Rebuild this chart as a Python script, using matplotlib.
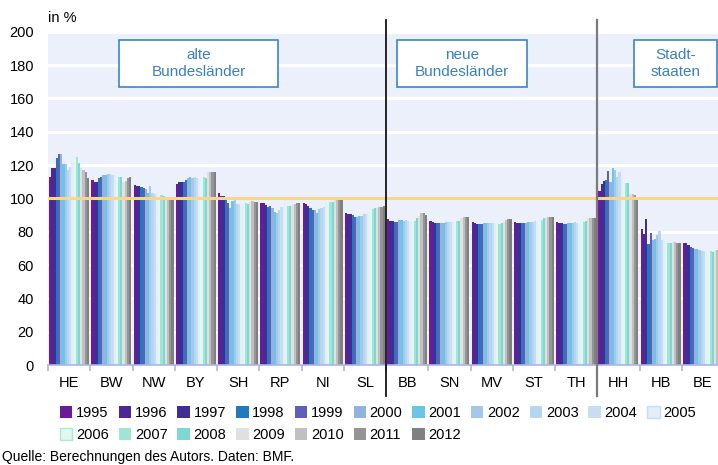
import numpy as np
import matplotlib.pyplot as plt
from matplotlib.patches import Rectangle, Patch

plt.rcParams['font.family'] = ['Liberation Sans', 'DejaVu Sans']

# Länder und Jahre
laender = ['HE', 'BW', 'NW', 'BY', 'SH', 'RP', 'NI', 'SL',
           'BB', 'SN', 'MV', 'ST', 'TH', 'HH', 'HB', 'BE']
jahre = list(range(1995, 2013))

# Werte in %, je Land 1995..2012
HE = [113, 118, 118, 124, 126.5, 126.5, 120.5, 120.5, 117, 119, 122.5, 123.5, 125, 121, 118, 117, 116, 112]
BW = [111, 110, 110, 112, 113, 114, 114, 114.5, 114.5, 114, 114, 113, 113, 113, 110, 110.5, 112, 113]
NW = [108, 107.5, 107.5, 107, 106.5, 105.5, 103, 107.5, 103, 102.5, 103.5, 102, 102, 101.5, 101, 100.5, 100, 99.5]
BY = [108.5, 110, 110, 110, 111, 112, 113, 112, 113, 112.5, 112, 111, 113, 112.5, 116, 116, 116, 116]
SH = [103.5, 101.5, 101.5, 100, 97.5, 94.5, 98.5, 99.5, 96.5, 96.5, 97.5, 97.5, 97, 96.5, 98, 98.5, 98, 98]
RP = [97, 97, 96, 95, 95.5, 94, 92, 91.5, 93, 95, 95, 95, 95.5, 95.5, 96, 96.5, 97.5, 97.5]
NI = [97, 96.5, 95.5, 94.5, 93, 93, 91, 93.5, 94.5, 95, 98, 98.5, 98, 98, 99.5, 99, 99, 99.5]
SL = [91, 90.5, 90.5, 90, 89, 89, 89.5, 89.5, 90.5, 90.5, 92, 93, 93.5, 94, 94.5, 95, 95, 95.5]
BB = [87.5, 86.5, 86.5, 86, 86, 87, 87, 86.5, 87, 86.5, 86, 86, 86.5, 88, 89.5, 91, 91, 90]
SN = [86.5, 86, 85.5, 85.5, 85, 85, 85.5, 86, 86, 86, 86, 86, 86.5, 86.5, 88, 89, 89, 89]
MV = [86, 85, 84.5, 84.5, 84.5, 85, 85, 85, 85, 85, 85, 84.5, 84.5, 85, 86, 87, 87.5, 87.5]
ST = [86, 85.5, 85.5, 85, 85, 85.5, 86, 86, 86, 86.5, 86.5, 86.5, 87, 88, 88.5, 89, 89, 89]
TH = [86, 85, 85, 84.5, 84.5, 85, 85, 85.5, 86, 85.5, 84.5, 85, 86, 86.5, 88, 88.5, 88.5, 88.5]
HH = [104.5, 108.5, 110.5, 111, 116.5, 110, 118, 117, 113, 116, 117.5, 112, 109.5, 109.5, 102.5, 102.5, 102, 99.5]
HB = [81.5, 78.5, 87.5, 72.5, 79.5, 75, 75.5, 78, 80.5, 75, 74.5, 73.5, 73.5, 73, 74, 74, 73, 73.5]
BE = [73.5, 73, 72, 71, 70, 69.5, 69.5, 69, 68.5, 68.5, 68.5, 68, 68.5, 68, 68.5, 69, 69.5, 70]

werte = np.array([HE, BW, NW, BY, SH, RP, NI, SL, BB, SN, MV, ST, TH, HH, HB, BE])

farben = ['#6a1b9a', '#4a2896', '#3f2e96', '#2479bd', '#5f5fb8', '#8fb4de',
          '#6cc5e6', '#a5c8ea', '#b5d6f0', '#c8dcf2', '#e2eefa', '#e0f8f0',
          '#9ee5d6', '#7dd8d4', '#e0e0e0', '#c0c0c0', '#959595', '#808080']
rand = [None] * 18
rand[10] = '#c8dcf2'
rand[11] = '#a8e8d8'

W, H = 718, 465
fig = plt.figure(figsize=(W / 100, H / 100), dpi=100)
# Achse reicht rechts etwas über das Bild hinaus (wie im Original abgeschnitten)
ax = fig.add_axes([48 / W, 100 / H, 676 / W, 333.3 / H])
ax.set_facecolor('#ebf0fa')

x = np.arange(len(laender))
bw = 0.947 / 18
for i, jahr in enumerate(jahre):
    ax.bar(x + (i - 8.5) * bw, werte[:, i], width=bw, color=farben[i],
           linewidth=0, label=str(jahr), zorder=2)

ax.set_ylim(0, 200)
ax.set_xlim(-0.5, len(laender) - 0.5)
ax.set_yticks(np.arange(0, 201, 20))
ax.yaxis.grid(True, color='white', linewidth=2.2, zorder=1)
ax.set_axisbelow(True)
for s in ['top', 'right', 'left']:
    ax.spines[s].set_visible(False)
ax.spines['bottom'].set_color('#a8b8e0')
ax.spines['bottom'].set_linewidth(1.2)
ax.spines['bottom'].set_zorder(3)

ax.set_xticks(x)
ax.set_xticklabels(laender, fontsize=10.5)
ax.set_xticks(np.arange(-0.5, len(laender)), minor=True)
ax.tick_params(axis='x', which='major', length=0, pad=8)
ax.tick_params(axis='x', which='minor', length=4, color='#a8b8e0', width=1.2)
ax.tick_params(axis='y', length=0, labelsize=10.5, pad=10)

# Referenzlinie 100 %
ax.axhline(100, color='#fbd58c', linewidth=2.2, zorder=4)

# Trennlinien
ax.plot([7.5, 7.5], [-18.5, 207], color='black', linewidth=1.2, clip_on=False, zorder=5)
ax.plot([12.5, 12.5], [-18.5, 207], color='#7a7a80', linewidth=1.6, clip_on=False, zorder=5)

fig.text(48 / W, 1 - 18 / H, 'in %', fontsize=10.5, va='center', ha='left')

# Beschriftungskästen
def kasten(x0, x1, text):
    y0, y1 = 40, 87
    fig.patches.append(Rectangle((x0 / W, 1 - y1 / H), (x1 - x0) / W, (y1 - y0) / H,
                                 transform=fig.transFigure, facecolor='white',
                                 edgecolor='#3a86c8', linewidth=1.2, zorder=6))
    fig.text((x0 + x1) / 2 / W, 1 - (y0 + y1) / 2 / H, text, ha='center', va='center',
             fontsize=11, color='#3a80c2', linespacing=1.25, zorder=7)

kasten(119, 278, 'alte\nBundesländer')
kasten(397, 527, 'neue\nBundesländer')
kasten(634, 717, 'Stadt-\nstaaten')

# Legende zeilenweise: 11 Spalten, 2 Zeilen
order = []
for c in range(11):
    order.append(c)
    if c + 11 < 18:
        order.append(c + 11)
handles = [Patch(facecolor=farben[i], edgecolor=rand[i] if rand[i] else farben[i],
                 linewidth=1 if rand[i] else 0) for i in order]
labels = [str(jahre[i]) for i in order]
fig.legend(handles, labels, ncol=11, loc='upper left',
           bbox_to_anchor=(60 / W, 1 - 406 / H), frameon=False, fontsize=10.5,
           handlelength=0.85, handleheight=0.85, handletextpad=0.25,
           columnspacing=0.68, labelspacing=0.55, borderpad=0, borderaxespad=0)

fig.text(2 / W, 1 - 457 / H, 'Quelle: Berechnungen des Autors. Daten: BMF.',
         fontsize=10, va='center', ha='left')

fig.savefig('out.png', dpi=100)
